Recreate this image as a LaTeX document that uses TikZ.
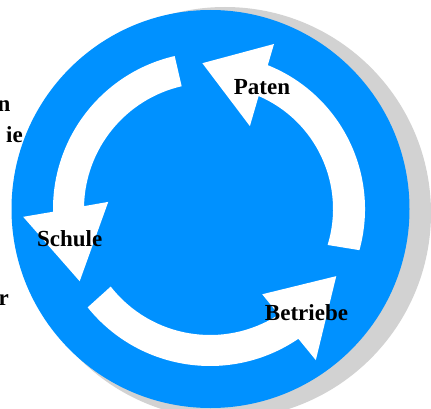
\documentclass[tikz,border=0pt]{standalone}
\usepackage{fontspec}
\setmainfont{Liberation Serif}
\definecolor{discblue}{RGB}{0,145,255}
\definecolor{discshadow}{RGB}{210,210,210}
\begin{document}
\begin{tikzpicture}[x=1pt,y=1pt,
  cyclelabel/.style={font=\fontsize{23}{27}\selectfont\bfseries, text=black, inner sep=0pt, anchor=base},
  sidetext/.style={font=\fontsize{23}{27}\selectfont\bfseries, text=black, inner sep=0pt, anchor=base east},
  cyclearrow/.style={fill=white, draw=none}]
\useasboundingbox (0,0) rectangle (431,408);
\clip (0,0) rectangle (431,408);

% word endings of the text running behind the disc
\node[sidetext] (t1) at (10.5,296.3) {n};
\node[sidetext] (t2) at (23,265.3) {ie};
\node[sidetext] (t3) at (9,103) {r};

% shadow and disc
\fill[discshadow] (225,195) circle[radius=206];
\fill[discblue] (210.5,199) circle[radius=199];

% three curved arrows around the disc centre
\begin{scope}[shift={(210,199)}]
  % towards Schule
  \fill[cyclearrow] (103:126) -- (103:157)
    arc[start angle=103, end angle=181, radius=157]
    -- (182.4:187) -- (209:149) -- (176:102) -- (178.7:126)
    arc[start angle=178.7, end angle=103, radius=126] -- cycle;
  % towards Betriebe
  \fill[cyclearrow] (218:126) -- (218.8:157)
    arc[start angle=218.8, end angle=304.25, radius=157]
    -- (305:184.5) -- (332:143) -- (301.5:100) -- (303:126)
    arc[start angle=303, end angle=218, radius=126] -- cycle;
  % towards Paten
  \fill[cyclearrow] (343:123) -- (344.6:155)
    arc[start angle=344.6, end angle=428.1, radius=155]
    -- (428.8:177) -- (453:146) -- (424.3:92) -- (426.7:123)
    arc[start angle=426.7, end angle=343, radius=123] -- cycle;
\end{scope}

% labels
\node[cyclelabel] (paten) at (262,313.7) {Paten};
\node[cyclelabel] (schule) at (69.7,162) {Schule};
\node[cyclelabel] (betriebe) at (306.5,87.3) {Betriebe};
\end{tikzpicture}
\end{document}
